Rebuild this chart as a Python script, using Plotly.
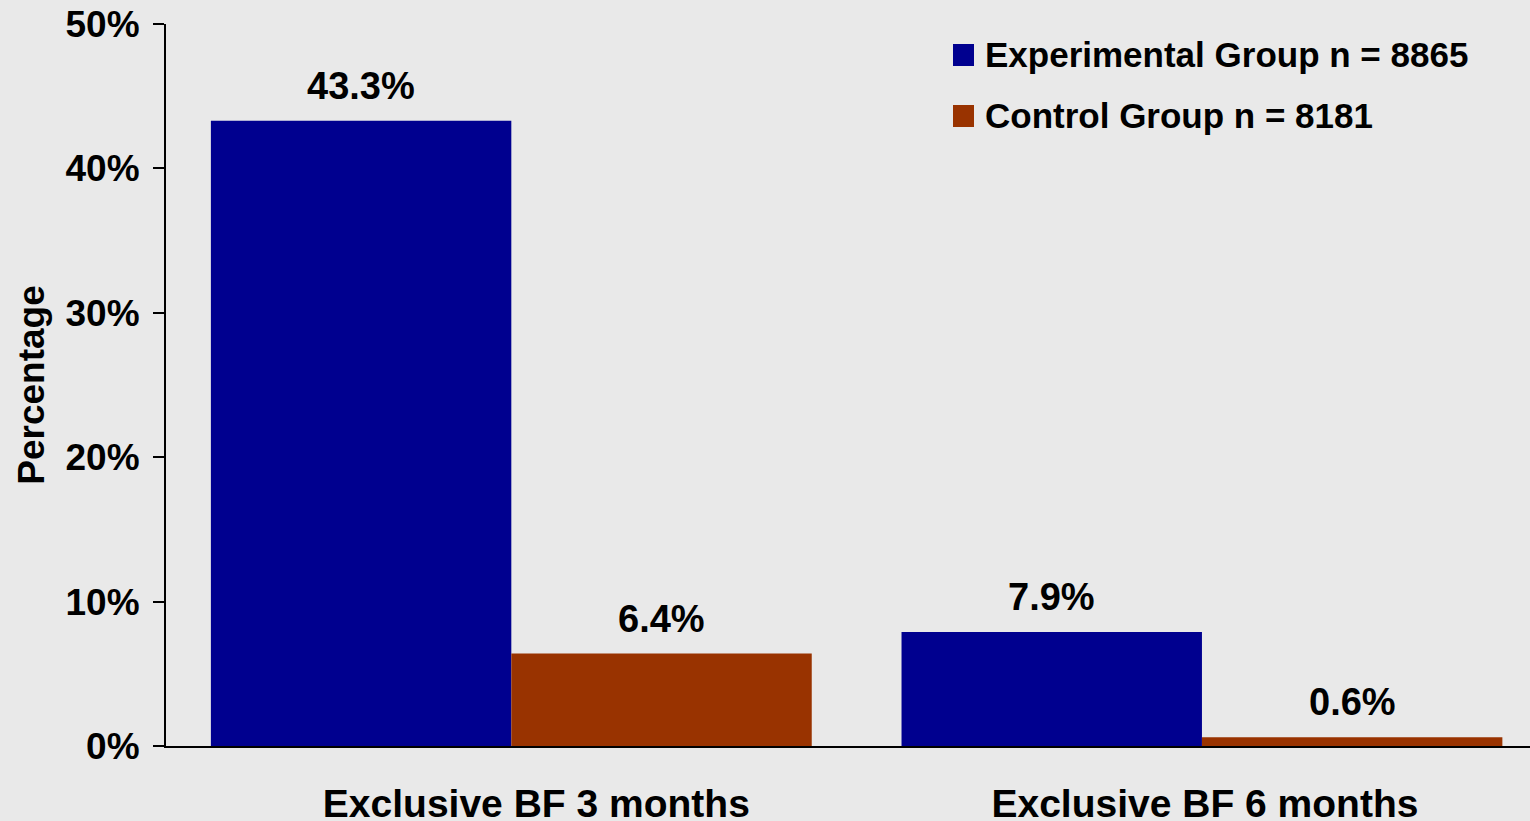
import plotly.graph_objects as go

categories = ["Exclusive BF 3 months", "Exclusive BF 6 months"]
series_names = ["Experimental Group n = 8865", "Control Group n = 8181"]
experimental = [43.3, 7.9]
control = [6.4, 0.6]
y_ticks = [0, 10, 20, 30, 40, 50]
y_tick_labels = ["0%", "10%", "20%", "30%", "40%", "50%"]

colors = ["#00008F", "#993300"]
FONT = "Arial, Liberation Sans, sans-serif"

W, H = 1530, 821
ML, MR, MT, MB = 166, 0, 24, 75
PW, PH = W - ML - MR, H - MT - MB


def px_x(px):
    return (px - ML) / PW


def px_y(py):
    return (H - MB - py) / PH


fig = go.Figure()
for name, vals, col in zip(series_names, [experimental, control], colors):
    fig.add_trace(go.Bar(
        x=categories, y=vals, name=name, showlegend=False,
        marker=dict(color=col, line=dict(width=0)),
    ))

bargap = 0.13
bar_w = (1 - bargap) / 2
for i, vals in enumerate([experimental, control]):
    off = -bar_w / 2 if i == 0 else bar_w / 2
    for j, v in enumerate(vals):
        fig.add_annotation(
            x=j + off, y=v, text=f"{v:.1f}%", showarrow=False,
            yanchor="bottom", yshift=12,
            font=dict(family=FONT, size=38, color="black", weight="bold"),
        )

# custom legend (large square swatches like the reference)
legend_rows = [(44, 66), (105, 127)]
for (top, bot), name, col in zip(legend_rows, series_names, colors):
    fig.add_shape(type="rect", xref="paper", yref="paper",
                  x0=px_x(953), x1=px_x(974), y0=px_y(bot), y1=px_y(top),
                  fillcolor=col, line=dict(width=0))
    fig.add_annotation(xref="paper", yref="paper",
                       x=px_x(983), y=px_y((top + bot) / 2 - 1),
                       xanchor="left", yanchor="middle", showarrow=False,
                       text=name,
                       font=dict(family=FONT, size=35, color="black", weight="bold"))

# category label positions (slightly offset like in the reference)
cat_px_per_unit = 690
label_pos = [0 + 25 / cat_px_per_unit, 1 + 3 / cat_px_per_unit]

fig.update_layout(
    width=W, height=H,
    margin=dict(l=ML, r=MR, t=MT, b=MB, autoexpand=False),
    paper_bgcolor="#e9e9e9", plot_bgcolor="#e9e9e9",
    barmode="group", bargap=bargap, bargroupgap=0,
    font=dict(family=FONT, color="black"),
    showlegend=False,
    xaxis=dict(
        range=[-0.5, 1.475], showgrid=False, zeroline=False,
        showline=True, linecolor="black", linewidth=2,
        tickvals=label_pos, ticktext=categories,
        ticks="", ticklabelstandoff=22, automargin=False,
        tickfont=dict(family=FONT, size=39, color="black", weight="bold"),
    ),
    yaxis=dict(
        range=[0, 50], tickvals=y_ticks, ticktext=y_tick_labels,
        showgrid=False, zeroline=False, automargin=False,
        showline=True, linecolor="black", linewidth=2,
        ticks="outside", ticklen=11, tickwidth=2, tickcolor="black",
        ticklabelstandoff=6,
        tickfont=dict(family=FONT, size=37, color="black", weight="bold"),
        title=dict(text="Percentage", standoff=10,
                   font=dict(family=FONT, size=37, color="black", weight="bold")),
    ),
)

fig.write_html("out.html",
               config={"displayModeBar": False},
               post_script="document.body.style.margin='0';"
                           "document.body.style.overflow='hidden';")
